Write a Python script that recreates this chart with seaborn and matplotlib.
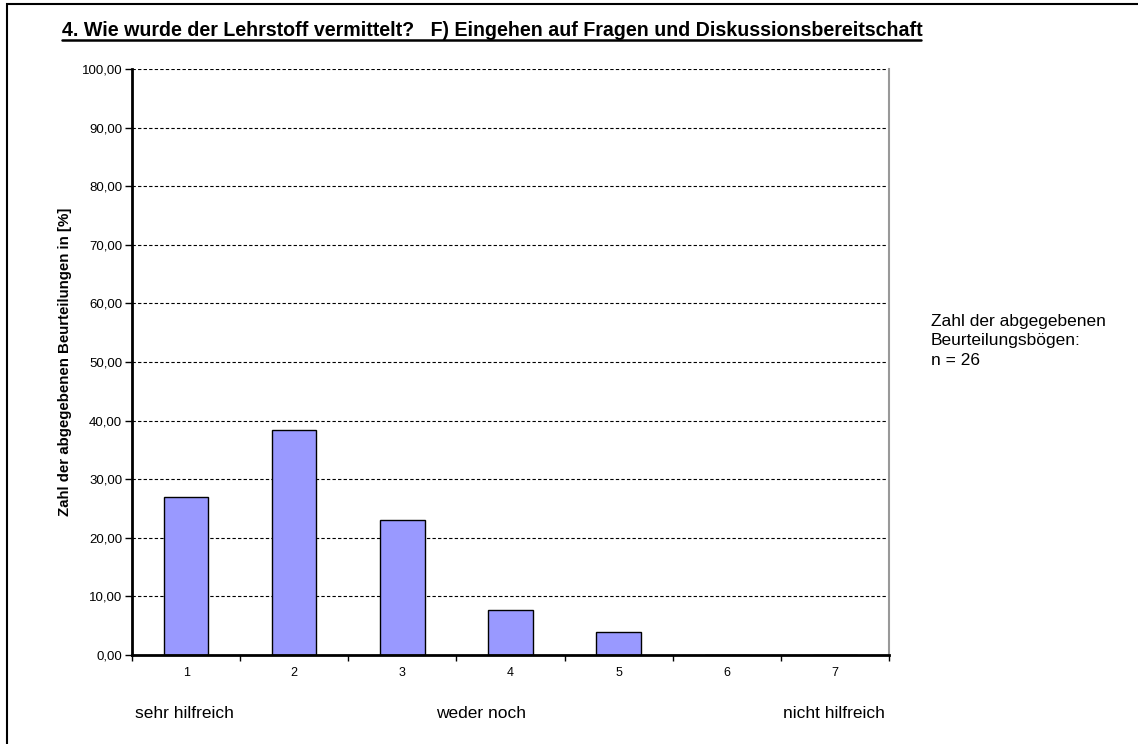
import matplotlib
matplotlib.use('Agg')
import matplotlib.pyplot as plt
import seaborn as sns
import pandas as pd
from matplotlib.ticker import FuncFormatter, FixedLocator

# data: share of ratings per grade, n = 26
grades = ['1', '2', '3', '4', '5', '6', '7']
percent = [26.92, 38.46, 23.08, 7.69, 3.85, 0.0, 0.0]
scale_labels = ['sehr hilfreich', 'weder noch', 'nicht hilfreich']
title = '4. Wie wurde der Lehrstoff vermittelt?   F) Eingehen auf Fragen und Diskussionsbereitschaft'
ylabel = 'Zahl der abgegebenen Beurteilungen in [%]'
note = 'Zahl der abgegebenen\nBeurteilungsbögen:\nn = 26'

df = pd.DataFrame({'grade': grades, 'percent': percent})

sns.set_style('white')
plt.rcParams['font.family'] = ['Liberation Sans', 'DejaVu Sans']
plt.rcParams['text.color'] = 'black'
plt.rcParams['axes.labelcolor'] = 'black'
plt.rcParams['xtick.color'] = 'black'
plt.rcParams['ytick.color'] = 'black'

W, H = 1138, 744
fig = plt.figure(figsize=(W / 100, H / 100), dpi=100)
ax = fig.add_axes([132 / W, 1 - 655 / H, (889 - 132) / W, (655 - 69) / H])

sns.barplot(data=df, x='grade', y='percent', color='#9999FF', saturation=1,
            edgecolor='black', linewidth=1, width=0.41, ax=ax)

ax.set_xlim(-0.5, 6.5)
ax.set_ylim(0, 100)
ax.set_yticks(range(0, 101, 10))
ax.yaxis.set_major_formatter(FuncFormatter(lambda v, p: f'{v:.2f}'.replace('.', ',')))
ax.yaxis.grid(True, color='black', linestyle=(0, (3, 2)), linewidth=0.8)
ax.set_axisbelow(True)

# ticks between categories, labels centred under the bars
ax.xaxis.set_major_locator(FixedLocator([i - 0.5 for i in range(8)]))
ax.xaxis.set_minor_locator(FixedLocator(range(7)))
ax.set_xticklabels([])
ax.set_xticklabels(grades, minor=True)
ax.tick_params(axis='x', which='major', length=4, width=1, direction='out', color='black', bottom=True)
ax.tick_params(axis='x', which='minor', length=0, pad=9, labelsize=9)
ax.tick_params(axis='y', length=5, width=1, direction='out', color='black', left=True, labelsize=9.5, pad=2)

for s in ['left', 'bottom']:
    ax.spines[s].set_color('black')
    ax.spines[s].set_linewidth(2)
ax.spines['right'].set_color('#999999')
ax.spines['right'].set_linewidth(1.5)
ax.spines['top'].set_visible(False)

ax.set_xlabel('')
ax.set_ylabel(ylabel, fontsize=10.8, fontweight='bold')
ax.yaxis.set_label_coords((72 - 132) / (889 - 132), 0.5)

fig.text(62 / W, 1 - 30 / H, title, fontsize=14.1, fontweight='bold', va='center', ha='left')
fig.add_artist(plt.Line2D([62 / W, 921 / W], [1 - 40 / H, 1 - 40 / H],
                          color='black', linewidth=1.8, transform=fig.transFigure))

fig.text(135 / W, 1 - 713 / H, scale_labels[0], fontsize=12.5, va='center', ha='left')
fig.text(481 / W, 1 - 713 / H, scale_labels[1], fontsize=12.5, va='center', ha='center')
fig.text(885 / W, 1 - 713 / H, scale_labels[2], fontsize=12.5, va='center', ha='right')

fig.text(931 / W, 1 - 341 / H, note, fontsize=12.5, va='center', ha='left', linespacing=1.37)

# outer frame
fig.add_artist(plt.Rectangle((7 / W, -0.01), 1.1, 1 - 4 / H + 0.01, fill=False,
                             edgecolor='black', linewidth=1.5, transform=fig.transFigure))

fig.savefig('out.png', dpi=100)
